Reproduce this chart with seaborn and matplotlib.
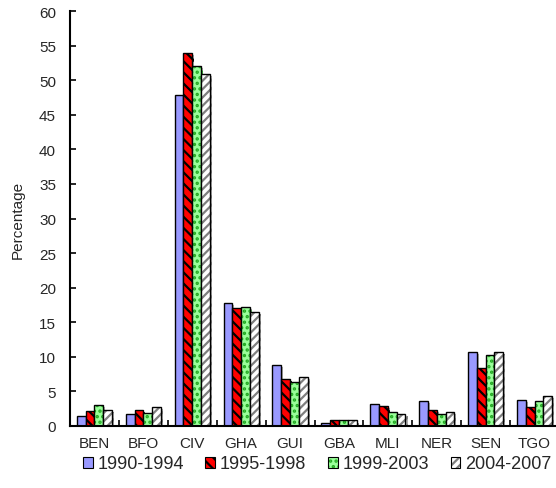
import matplotlib
matplotlib.use("Agg")
import matplotlib.pyplot as plt
import matplotlib.patheffects as pe
from matplotlib.patches import Patch
from matplotlib.ticker import MultipleLocator, FixedLocator
import seaborn as sns
import pandas as pd

countries = ["BEN", "BFO", "CIV", "GHA", "GUI", "GBA", "MLI", "NER", "SEN", "TGO"]
periods = ["1990-1994", "1995-1998", "1999-2003", "2004-2007"]
v1990 = [1.45, 1.8, 47.8, 17.8, 8.8, 0.5, 3.2, 3.6, 10.7, 3.8]
v1995 = [2.15, 2.3, 53.9, 17.0, 6.8, 0.8, 2.9, 2.3, 8.4, 2.7]
v1999 = [3.0, 1.9, 52.1, 17.2, 6.3, 0.9, 2.0, 1.8, 10.2, 3.6]
v2004 = [2.3, 2.7, 50.9, 16.5, 7.1, 0.8, 1.8, 2.0, 10.7, 4.4]

faces = ["#9999FF", "#FF0000", "#99FF99", "#FFFFFF"]
hatches = [None, "\\\\\\", "...", "////"]
hatch_cols = ["#000000", "#000000", "#22AA22", "#7F7F7F"]

rows = []
for p, vals in zip(periods, [v1990, v1995, v1999, v2004]):
    for c, v in zip(countries, vals):
        rows.append({"country": c, "period": p, "value": v})
df = pd.DataFrame(rows)

sns.set_style("white")
plt.rcParams["font.family"] = ["Liberation Sans", "DejaVu Sans"]
plt.rcParams["hatch.linewidth"] = 1.6

fig = plt.figure(figsize=(5.56, 4.89), dpi=100)
ax = fig.add_axes([70 / 556, 62 / 489, 489 / 556, 415 / 489])

sns.barplot(data=df, x="country", y="value", hue="period", order=countries,
            hue_order=periods, palette=faces, width=0.72, gap=0, ax=ax,
            legend=False, errorbar=None, saturation=1)

shadow = [pe.SimplePatchShadow(offset=(1.5, -1.5), shadow_rgbFace="#999999", alpha=0.8), pe.Normal()]
for i, cont in enumerate(ax.containers):
    for bar in cont:
        bar.set_facecolor(faces[i])
        bar.set_edgecolor("#000000")
        bar.set_linewidth(1.0)
        if hatches[i]:
            bar.set_hatch(hatches[i])
        bar._hatch_color = matplotlib.colors.to_rgba(hatch_cols[i])
        bar.set_path_effects(shadow)

ax.set_xlim(-0.5, 9.5)
ax.set_ylim(0, 60)
ax.yaxis.set_major_locator(MultipleLocator(5))
ax.xaxis.set_minor_locator(FixedLocator([i + 0.5 for i in range(-1, 10)]))
ax.tick_params(axis="x", which="major", length=0, labelsize=11, pad=7)
ax.tick_params(axis="x", which="minor", direction="in", length=4, width=1.2, color="black", bottom=True)
ax.tick_params(axis="y", direction="in", length=4, width=1.2, color="black", labelsize=11, left=True, pad=10)
for s in ["top", "right"]:
    ax.spines[s].set_visible(False)
for s in ["left", "bottom"]:
    ax.spines[s].set_color("black")
    ax.spines[s].set_linewidth(1.5)
ax.set_xlabel("")
ax.set_ylabel("Percentage", fontsize=11, labelpad=10)

handles = [Patch(facecolor=faces[i], edgecolor="black", hatch=hatches[i], linewidth=0.8) for i in range(4)]
leg = fig.legend(handles, periods, loc="center", bbox_to_anchor=(317 / 556, 1 - 465 / 489),
                 ncol=4, frameon=False, fontsize=13, handlelength=0.55, handleheight=0.55,
                 handletextpad=0.25, columnspacing=1.2, borderpad=0.2)
for i, h in enumerate(leg.legend_handles):
    h._hatch_color = matplotlib.colors.to_rgba(hatch_cols[i])

fig.savefig("out.png", dpi=100)
